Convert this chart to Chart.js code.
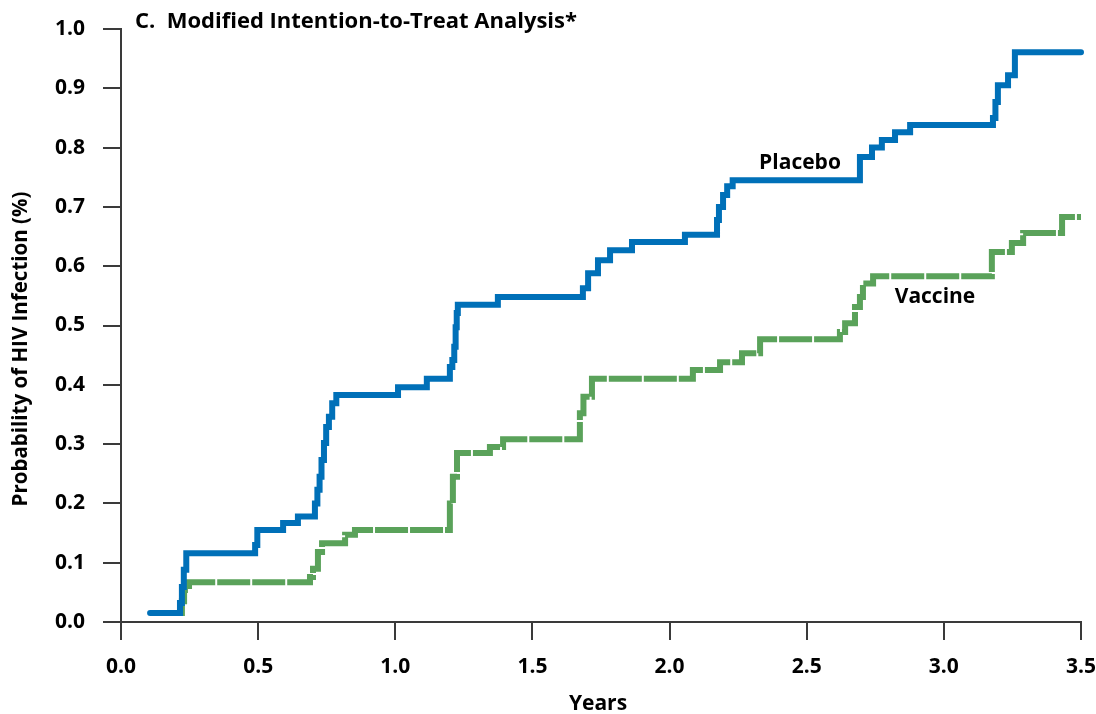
<!DOCTYPE html>
<html><head><meta charset="utf-8">
<script src="https://cdn.jsdelivr.net/npm/chart.js@4.4.0/dist/chart.umd.min.js"></script>
<style>html,body{margin:0;padding:0;background:#fff;}#wrap{width:1096px;height:714px;}</style>
</head><body><div id="wrap"><canvas id="c" width="1096" height="714"></canvas></div>
<script>
const placeboYears = [0.106,0.215,0.222,0.229,0.238,0.489,0.497,0.591,0.645,0.707,0.716,0.724,0.731,0.740,0.748,0.758,0.770,0.785,1.010,1.115,1.199,1.208,1.215,1.220,1.224,1.228,1.374,1.684,1.703,1.739,1.783,1.863,2.056,2.173,2.180,2.195,2.210,2.230,2.694,2.738,2.774,2.822,2.877,3.179,3.188,3.197,3.234,3.259,3.5];
const placeboProb  = [0.015,0.032,0.059,0.088,0.116,0.130,0.155,0.167,0.178,0.200,0.223,0.245,0.273,0.302,0.329,0.346,0.369,0.383,0.396,0.410,0.430,0.442,0.464,0.497,0.521,0.535,0.548,0.563,0.588,0.610,0.627,0.641,0.653,0.678,0.700,0.720,0.735,0.745,0.784,0.800,0.813,0.826,0.838,0.850,0.877,0.905,0.922,0.961,0.961];
const vaccineYears = [0.208,0.222,0.230,0.248,0.689,0.700,0.718,0.733,0.817,0.853,1.199,1.210,1.225,1.345,1.393,1.673,1.686,1.717,2.085,2.184,2.264,2.330,2.621,2.640,2.676,2.694,2.705,2.742,3.175,3.248,3.289,3.431,3.5];
const vaccineProb  = [0.015,0.035,0.054,0.067,0.076,0.090,0.118,0.133,0.147,0.155,0.200,0.245,0.285,0.295,0.308,0.352,0.380,0.410,0.425,0.438,0.453,0.477,0.489,0.504,0.531,0.548,0.571,0.583,0.624,0.639,0.656,0.683,0.683];
const xTickValues = [0,0.5,1.0,1.5,2.0,2.5,3.0,3.5];
const yTickValues = [0,0.1,0.2,0.3,0.4,0.5,0.6,0.7,0.8,0.9,1.0];
const panelTitle = 'C.  Modified Intention-to-Treat Analysis*';
const xTitle = 'Years';
const yTitle = 'Probability of HIV Infection (%)';
const seriesNames = ['Placebo','Vaccine'];

const FONT = '"Open Sans"';
const toPts = (xs, ys) => xs.map((x, i) => ({x: x, y: ys[i]}));

const textPlugin = {
  id: 'texts',
  afterDraw(chart) {
    const ctx = chart.ctx;
    ctx.save();
    ctx.fillStyle = '#000';
    ctx.textBaseline = 'middle';
    ctx.textAlign = 'left';
    ctx.font = 'bold 22px ' + FONT;
    ctx.fillText(panelTitle, 135, 22);
    ctx.font = 'bold 21px ' + FONT;
    ctx.textAlign = 'center';
    ctx.fillText(seriesNames[0], 800, 163);
    ctx.fillText(seriesNames[1], 935, 297);
    ctx.fillText(xTitle, 598, 704);
    ctx.font = 'bold 20.5px ' + FONT;
    ctx.translate(21, 349);
    ctx.rotate(-Math.PI / 2);
    ctx.fillText(yTitle, 0, 0);
    ctx.restore();
  }
};

const axisColor = '#3a3a3a';
new Chart(document.getElementById('c'), {
  type: 'line',
  data: {
    datasets: [
      {label: seriesNames[0], data: toPts(placeboYears, placeboProb), stepped: 'before',
       borderColor: '#0070b8', borderWidth: 6, pointRadius: 0, fill: false,
       borderCapStyle: 'round', borderJoinStyle: 'miter', clip: 8},
      {label: seriesNames[1], data: toPts(vaccineYears, vaccineProb), stepped: 'before',
       borderColor: '#5aa25a', borderWidth: 6, pointRadius: 0, fill: false,
       borderDash: [33, 2], borderCapStyle: 'butt', borderJoinStyle: 'miter', clip: 8}
    ]
  },
  options: {
    responsive: false, animation: false, devicePixelRatio: 1,
    layout: {padding: {top: 29, right: 15, left: 0, bottom: 0}},
    plugins: {legend: {display: false}, tooltip: {enabled: false}, title: {display: false}},
    scales: {
      x: {
        type: 'linear', min: 0, max: 3.5,
        afterFit: s => { s.height = 92; s.paddingRight = 0; s.paddingLeft = 0; },
        afterBuildTicks: s => { s.ticks = xTickValues.map(v => ({value: v})); },
        border: {color: axisColor, width: 2},
        grid: {display: true, drawOnChartArea: false, drawTicks: true, tickLength: 18, color: axisColor, lineWidth: 2},
        ticks: {padding: 14, color: '#000', font: {family: FONT, size: 21, weight: 'bold'}, maxRotation: 0,
                callback: v => Number(v).toFixed(1)}
      },
      y: {
        type: 'linear', min: 0, max: 1.0,
        afterFit: s => { s.width = 121; s.paddingTop = 0; s.paddingBottom = 0; },
        afterBuildTicks: s => { s.ticks = yTickValues.map(v => ({value: v})); },
        border: {color: axisColor, width: 2},
        grid: {display: true, drawOnChartArea: false, drawTicks: true, tickLength: 18, color: axisColor, lineWidth: 2},
        ticks: {padding: 18, color: '#000', font: {family: FONT, size: 21, weight: 'bold'},
                callback: v => Number(v).toFixed(1)}
      }
    }
  },
  plugins: [textPlugin]
});
</script></body></html>
